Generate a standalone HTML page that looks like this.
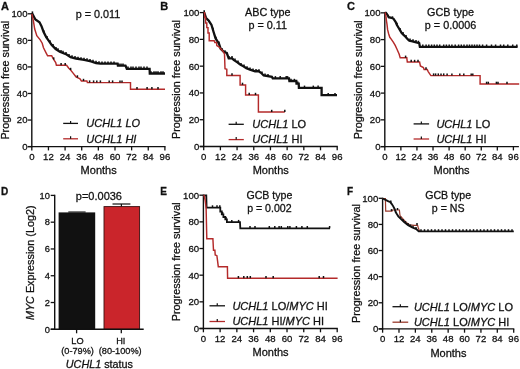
<!DOCTYPE html>
<html><head><meta charset="utf-8"><style>
html,body{margin:0;padding:0;background:#fff;}
svg{display:block;filter:blur(0.25px);}
text{font-family:"Liberation Sans", sans-serif;fill:#111;stroke:#111;stroke-width:0.28px;}
</style></head><body>
<svg width="520" height="369" viewBox="0 0 520 369">
<rect width="520" height="369" fill="#fff"/>
<text x="0.90" y="9.50" font-size="11" font-weight="bold" >A</text>
<line x1="31.80" y1="13.20" x2="31.80" y2="147.20" stroke="#111" stroke-width="1.4"/>
<line x1="27.80" y1="146.60" x2="31.80" y2="146.60" stroke="#111" stroke-width="1.3"/>
<text x="27.50" y="150.00" font-size="9.6" text-anchor="end" >0</text>
<line x1="27.80" y1="120.04" x2="31.80" y2="120.04" stroke="#111" stroke-width="1.3"/>
<text x="27.50" y="123.44" font-size="9.6" text-anchor="end" >20</text>
<line x1="27.80" y1="93.48" x2="31.80" y2="93.48" stroke="#111" stroke-width="1.3"/>
<text x="27.50" y="96.88" font-size="9.6" text-anchor="end" >40</text>
<line x1="27.80" y1="66.92" x2="31.80" y2="66.92" stroke="#111" stroke-width="1.3"/>
<text x="27.50" y="70.32" font-size="9.6" text-anchor="end" >60</text>
<line x1="27.80" y1="40.36" x2="31.80" y2="40.36" stroke="#111" stroke-width="1.3"/>
<text x="27.50" y="43.76" font-size="9.6" text-anchor="end" >80</text>
<line x1="27.80" y1="13.80" x2="31.80" y2="13.80" stroke="#111" stroke-width="1.3"/>
<text x="27.50" y="17.20" font-size="9.6" text-anchor="end" >100</text>
<line x1="27.80" y1="146.60" x2="165.50" y2="146.60" stroke="#111" stroke-width="1.4"/>
<line x1="31.80" y1="146.60" x2="31.80" y2="150.40" stroke="#111" stroke-width="1.3"/>
<text x="31.80" y="159.70" font-size="9.6" text-anchor="middle" >0</text>
<line x1="48.44" y1="146.60" x2="48.44" y2="150.40" stroke="#111" stroke-width="1.3"/>
<text x="48.44" y="159.70" font-size="9.6" text-anchor="middle" >12</text>
<line x1="65.08" y1="146.60" x2="65.08" y2="150.40" stroke="#111" stroke-width="1.3"/>
<text x="65.08" y="159.70" font-size="9.6" text-anchor="middle" >24</text>
<line x1="81.71" y1="146.60" x2="81.71" y2="150.40" stroke="#111" stroke-width="1.3"/>
<text x="81.71" y="159.70" font-size="9.6" text-anchor="middle" >36</text>
<line x1="98.35" y1="146.60" x2="98.35" y2="150.40" stroke="#111" stroke-width="1.3"/>
<text x="98.35" y="159.70" font-size="9.6" text-anchor="middle" >48</text>
<line x1="114.99" y1="146.60" x2="114.99" y2="150.40" stroke="#111" stroke-width="1.3"/>
<text x="114.99" y="159.70" font-size="9.6" text-anchor="middle" >60</text>
<line x1="131.62" y1="146.60" x2="131.62" y2="150.40" stroke="#111" stroke-width="1.3"/>
<text x="131.62" y="159.70" font-size="9.6" text-anchor="middle" >72</text>
<line x1="148.26" y1="146.60" x2="148.26" y2="150.40" stroke="#111" stroke-width="1.3"/>
<text x="148.26" y="159.70" font-size="9.6" text-anchor="middle" >84</text>
<line x1="164.90" y1="146.60" x2="164.90" y2="150.40" stroke="#111" stroke-width="1.3"/>
<text x="164.90" y="159.70" font-size="9.6" text-anchor="middle" >96</text>
<text x="98.65" y="173.80" font-size="11" text-anchor="middle" >Months</text>
<text x="9.00" y="80.20" font-size="10.8" text-anchor="middle" transform="rotate(-90 9.00 80.20)" >Progression free survival</text>
<text x="98.00" y="18.30" font-size="10.8" text-anchor="middle" >p = 0.011</text>
<polyline points="31.80,13.80 32.50,14.20 35.40,19.50 39.50,22.20 41.50,26.20 43.50,31.70 46.20,37.10 49.00,41.10 51.70,44.90 55.70,49.00 59.80,51.80 66.60,54.50 70.60,57.20 76.00,58.50 84.20,59.90 91.00,61.40 96.00,63.00 100.40,63.60 117.60,63.60 117.90,65.60 125.50,65.60 126.80,68.80 149.60,68.80 149.80,73.50 165.00,73.50" fill="none" stroke="#111" stroke-width="2.3" stroke-linejoin="miter"/>
<line x1="32.40" y1="13.80" x2="32.40" y2="11.40" stroke="#111" stroke-width="1.6"/>
<line x1="44.00" y1="32.70" x2="44.00" y2="30.50" stroke="#111" stroke-width="1.5"/>
<line x1="47.00" y1="38.24" x2="47.00" y2="36.04" stroke="#111" stroke-width="1.5"/>
<line x1="50.00" y1="42.51" x2="50.00" y2="40.31" stroke="#111" stroke-width="1.5"/>
<line x1="53.00" y1="46.23" x2="53.00" y2="44.03" stroke="#111" stroke-width="1.5"/>
<line x1="56.00" y1="49.20" x2="56.00" y2="47.00" stroke="#111" stroke-width="1.5"/>
<line x1="58.00" y1="50.57" x2="58.00" y2="48.37" stroke="#111" stroke-width="1.5"/>
<line x1="61.00" y1="52.28" x2="61.00" y2="50.08" stroke="#111" stroke-width="1.5"/>
<line x1="63.00" y1="53.07" x2="63.00" y2="50.87" stroke="#111" stroke-width="1.5"/>
<line x1="66.00" y1="54.26" x2="66.00" y2="52.06" stroke="#111" stroke-width="1.5"/>
<line x1="69.00" y1="56.12" x2="69.00" y2="53.92" stroke="#111" stroke-width="1.5"/>
<line x1="72.00" y1="57.54" x2="72.00" y2="55.34" stroke="#111" stroke-width="1.5"/>
<line x1="75.00" y1="58.26" x2="75.00" y2="56.06" stroke="#111" stroke-width="1.5"/>
<line x1="78.00" y1="58.84" x2="78.00" y2="56.64" stroke="#111" stroke-width="1.5"/>
<line x1="81.00" y1="59.35" x2="81.00" y2="57.15" stroke="#111" stroke-width="1.5"/>
<line x1="84.00" y1="59.87" x2="84.00" y2="57.67" stroke="#111" stroke-width="1.5"/>
<line x1="87.00" y1="60.52" x2="87.00" y2="58.32" stroke="#111" stroke-width="1.5"/>
<line x1="90.00" y1="61.18" x2="90.00" y2="58.98" stroke="#111" stroke-width="1.5"/>
<line x1="93.00" y1="62.04" x2="93.00" y2="59.84" stroke="#111" stroke-width="1.5"/>
<line x1="96.00" y1="63.00" x2="96.00" y2="60.80" stroke="#111" stroke-width="1.5"/>
<line x1="99.00" y1="63.41" x2="99.00" y2="61.21" stroke="#111" stroke-width="1.5"/>
<line x1="102.00" y1="63.60" x2="102.00" y2="61.40" stroke="#111" stroke-width="1.5"/>
<line x1="105.00" y1="63.60" x2="105.00" y2="61.40" stroke="#111" stroke-width="1.5"/>
<line x1="108.00" y1="63.60" x2="108.00" y2="61.40" stroke="#111" stroke-width="1.5"/>
<line x1="111.00" y1="63.60" x2="111.00" y2="61.40" stroke="#111" stroke-width="1.5"/>
<line x1="114.00" y1="63.60" x2="114.00" y2="61.40" stroke="#111" stroke-width="1.5"/>
<line x1="119.00" y1="65.60" x2="119.00" y2="63.40" stroke="#111" stroke-width="1.5"/>
<line x1="121.00" y1="65.60" x2="121.00" y2="63.40" stroke="#111" stroke-width="1.5"/>
<line x1="123.00" y1="65.60" x2="123.00" y2="63.40" stroke="#111" stroke-width="1.5"/>
<line x1="128.00" y1="68.80" x2="128.00" y2="66.60" stroke="#111" stroke-width="1.5"/>
<line x1="131.00" y1="68.80" x2="131.00" y2="66.60" stroke="#111" stroke-width="1.5"/>
<line x1="133.00" y1="68.80" x2="133.00" y2="66.60" stroke="#111" stroke-width="1.5"/>
<line x1="136.00" y1="68.80" x2="136.00" y2="66.60" stroke="#111" stroke-width="1.5"/>
<line x1="139.00" y1="68.80" x2="139.00" y2="66.60" stroke="#111" stroke-width="1.5"/>
<line x1="141.00" y1="68.80" x2="141.00" y2="66.60" stroke="#111" stroke-width="1.5"/>
<line x1="144.00" y1="68.80" x2="144.00" y2="66.60" stroke="#111" stroke-width="1.5"/>
<line x1="147.00" y1="68.80" x2="147.00" y2="66.60" stroke="#111" stroke-width="1.5"/>
<line x1="151.00" y1="73.50" x2="151.00" y2="71.30" stroke="#111" stroke-width="1.5"/>
<line x1="154.00" y1="73.50" x2="154.00" y2="71.30" stroke="#111" stroke-width="1.5"/>
<line x1="156.00" y1="73.50" x2="156.00" y2="71.30" stroke="#111" stroke-width="1.5"/>
<line x1="158.00" y1="73.50" x2="158.00" y2="71.30" stroke="#111" stroke-width="1.5"/>
<line x1="161.00" y1="73.50" x2="161.00" y2="71.30" stroke="#111" stroke-width="1.5"/>
<line x1="163.00" y1="73.50" x2="163.00" y2="71.30" stroke="#111" stroke-width="1.5"/>
<polyline points="31.80,13.80 33.40,20.80 34.70,29.00 36.80,35.70 40.20,39.80 42.20,43.20 43.50,47.70 46.20,53.10 47.60,55.80 51.70,55.80 53.00,58.50 55.70,62.60 56.40,65.30 66.60,65.30 68.60,68.00 70.60,70.00 73.30,73.40 76.00,76.80 80.00,78.80 81.40,81.00 86.90,81.00 87.40,82.60 130.50,82.60 130.50,89.20 165.00,89.20" fill="none" stroke="#b42a2a" stroke-width="1.45" stroke-linejoin="miter"/>
<line x1="53.70" y1="59.56" x2="53.70" y2="57.36" stroke="#111" stroke-width="1.5"/>
<line x1="61.10" y1="65.30" x2="61.10" y2="63.10" stroke="#111" stroke-width="1.5"/>
<line x1="65.20" y1="65.30" x2="65.20" y2="63.10" stroke="#111" stroke-width="1.5"/>
<line x1="70.60" y1="70.00" x2="70.60" y2="67.80" stroke="#111" stroke-width="1.5"/>
<line x1="77.40" y1="77.50" x2="77.40" y2="75.30" stroke="#111" stroke-width="1.5"/>
<line x1="83.50" y1="81.00" x2="83.50" y2="78.80" stroke="#111" stroke-width="1.5"/>
<line x1="89.60" y1="82.60" x2="89.60" y2="80.40" stroke="#111" stroke-width="1.5"/>
<line x1="93.60" y1="82.60" x2="93.60" y2="80.40" stroke="#111" stroke-width="1.5"/>
<line x1="96.80" y1="82.60" x2="96.80" y2="80.40" stroke="#111" stroke-width="1.5"/>
<line x1="100.40" y1="82.60" x2="100.40" y2="80.40" stroke="#111" stroke-width="1.5"/>
<line x1="109.20" y1="82.60" x2="109.20" y2="80.40" stroke="#111" stroke-width="1.5"/>
<line x1="112.60" y1="82.60" x2="112.60" y2="80.40" stroke="#111" stroke-width="1.5"/>
<line x1="120.00" y1="82.60" x2="120.00" y2="80.40" stroke="#111" stroke-width="1.5"/>
<line x1="122.00" y1="82.60" x2="122.00" y2="80.40" stroke="#111" stroke-width="1.5"/>
<line x1="137.00" y1="89.20" x2="137.00" y2="87.00" stroke="#111" stroke-width="1.5"/>
<line x1="147.10" y1="89.20" x2="147.10" y2="87.00" stroke="#111" stroke-width="1.5"/>
<line x1="151.90" y1="89.20" x2="151.90" y2="87.00" stroke="#111" stroke-width="1.5"/>
<line x1="158.00" y1="89.20" x2="158.00" y2="87.00" stroke="#111" stroke-width="1.5"/>
<line x1="63.20" y1="123.40" x2="78.00" y2="123.40" stroke="#111" stroke-width="1.3"/>
<line x1="70.60" y1="123.40" x2="70.60" y2="120.90" stroke="#111" stroke-width="1.2"/>
<text x="86.30" y="127.20" font-size="11"><tspan font-style="italic">UCHL1 LO</tspan></text>
<line x1="63.20" y1="138.80" x2="78.00" y2="138.80" stroke="#b42a2a" stroke-width="1.3"/>
<line x1="70.60" y1="138.80" x2="70.60" y2="136.30" stroke="#111" stroke-width="1.2"/>
<text x="86.30" y="142.60" font-size="11"><tspan font-style="italic">UCHL1 HI</tspan></text>
<text x="160.30" y="9.50" font-size="11" font-weight="bold" >B</text>
<line x1="203.70" y1="12.00" x2="203.70" y2="147.10" stroke="#111" stroke-width="1.4"/>
<line x1="199.70" y1="146.50" x2="203.70" y2="146.50" stroke="#111" stroke-width="1.3"/>
<text x="199.40" y="149.90" font-size="9.6" text-anchor="end" >0</text>
<line x1="199.70" y1="119.72" x2="203.70" y2="119.72" stroke="#111" stroke-width="1.3"/>
<text x="199.40" y="123.12" font-size="9.6" text-anchor="end" >20</text>
<line x1="199.70" y1="92.94" x2="203.70" y2="92.94" stroke="#111" stroke-width="1.3"/>
<text x="199.40" y="96.34" font-size="9.6" text-anchor="end" >40</text>
<line x1="199.70" y1="66.16" x2="203.70" y2="66.16" stroke="#111" stroke-width="1.3"/>
<text x="199.40" y="69.56" font-size="9.6" text-anchor="end" >60</text>
<line x1="199.70" y1="39.38" x2="203.70" y2="39.38" stroke="#111" stroke-width="1.3"/>
<text x="199.40" y="42.78" font-size="9.6" text-anchor="end" >80</text>
<line x1="199.70" y1="12.60" x2="203.70" y2="12.60" stroke="#111" stroke-width="1.3"/>
<text x="199.40" y="16.00" font-size="9.6" text-anchor="end" >100</text>
<line x1="199.70" y1="146.50" x2="337.80" y2="146.50" stroke="#111" stroke-width="1.4"/>
<line x1="203.70" y1="146.50" x2="203.70" y2="150.30" stroke="#111" stroke-width="1.3"/>
<text x="203.70" y="159.70" font-size="9.6" text-anchor="middle" >0</text>
<line x1="220.39" y1="146.50" x2="220.39" y2="150.30" stroke="#111" stroke-width="1.3"/>
<text x="220.39" y="159.70" font-size="9.6" text-anchor="middle" >12</text>
<line x1="237.07" y1="146.50" x2="237.07" y2="150.30" stroke="#111" stroke-width="1.3"/>
<text x="237.07" y="159.70" font-size="9.6" text-anchor="middle" >24</text>
<line x1="253.76" y1="146.50" x2="253.76" y2="150.30" stroke="#111" stroke-width="1.3"/>
<text x="253.76" y="159.70" font-size="9.6" text-anchor="middle" >36</text>
<line x1="270.45" y1="146.50" x2="270.45" y2="150.30" stroke="#111" stroke-width="1.3"/>
<text x="270.45" y="159.70" font-size="9.6" text-anchor="middle" >48</text>
<line x1="287.14" y1="146.50" x2="287.14" y2="150.30" stroke="#111" stroke-width="1.3"/>
<text x="287.14" y="159.70" font-size="9.6" text-anchor="middle" >60</text>
<line x1="303.82" y1="146.50" x2="303.82" y2="150.30" stroke="#111" stroke-width="1.3"/>
<text x="303.82" y="159.70" font-size="9.6" text-anchor="middle" >72</text>
<line x1="320.51" y1="146.50" x2="320.51" y2="150.30" stroke="#111" stroke-width="1.3"/>
<text x="320.51" y="159.70" font-size="9.6" text-anchor="middle" >84</text>
<line x1="337.20" y1="146.50" x2="337.20" y2="150.30" stroke="#111" stroke-width="1.3"/>
<text x="337.20" y="159.70" font-size="9.6" text-anchor="middle" >96</text>
<text x="270.75" y="173.80" font-size="11" text-anchor="middle" >Months</text>
<text x="180.40" y="79.55" font-size="10.8" text-anchor="middle" transform="rotate(-90 180.40 79.55)" >Progression free survival</text>
<text x="267.80" y="16.40" font-size="10.8" text-anchor="middle" >ABC type</text>
<text x="267.80" y="29.30" font-size="10.8" text-anchor="middle" >p = 0.11</text>
<polyline points="203.70,12.60 204.50,13.40 206.10,18.10 208.80,20.80 211.50,24.90 213.50,31.70 215.60,38.40 219.00,43.80 220.70,48.80 224.00,52.10 226.80,53.00 228.70,58.30 232.00,58.30 234.00,60.20 237.70,62.50 240.60,64.90 243.40,66.30 246.30,68.20 250.00,69.60 255.00,71.30 258.30,71.00 261.00,72.80 263.70,75.50 271.90,76.80 272.70,78.30 289.00,78.30 289.40,81.00 296.30,81.00 296.50,83.70 298.70,83.70 298.90,87.80 321.60,87.80 321.60,95.20 337.00,95.20" fill="none" stroke="#111" stroke-width="2.3" stroke-linejoin="miter"/>
<line x1="204.20" y1="12.60" x2="204.20" y2="10.20" stroke="#111" stroke-width="1.6"/>
<line x1="213.00" y1="30.00" x2="213.00" y2="27.80" stroke="#111" stroke-width="1.5"/>
<line x1="216.00" y1="39.04" x2="216.00" y2="36.84" stroke="#111" stroke-width="1.5"/>
<line x1="219.00" y1="43.80" x2="219.00" y2="41.60" stroke="#111" stroke-width="1.5"/>
<line x1="222.00" y1="50.10" x2="222.00" y2="47.90" stroke="#111" stroke-width="1.5"/>
<line x1="225.00" y1="52.42" x2="225.00" y2="50.22" stroke="#111" stroke-width="1.5"/>
<line x1="229.00" y1="58.30" x2="229.00" y2="56.10" stroke="#111" stroke-width="1.5"/>
<line x1="232.00" y1="58.30" x2="232.00" y2="56.10" stroke="#111" stroke-width="1.5"/>
<line x1="235.00" y1="60.82" x2="235.00" y2="58.62" stroke="#111" stroke-width="1.5"/>
<line x1="238.00" y1="62.75" x2="238.00" y2="60.55" stroke="#111" stroke-width="1.5"/>
<line x1="241.00" y1="65.10" x2="241.00" y2="62.90" stroke="#111" stroke-width="1.5"/>
<line x1="244.00" y1="66.69" x2="244.00" y2="64.49" stroke="#111" stroke-width="1.5"/>
<line x1="247.00" y1="68.46" x2="247.00" y2="66.26" stroke="#111" stroke-width="1.5"/>
<line x1="250.00" y1="69.60" x2="250.00" y2="67.40" stroke="#111" stroke-width="1.5"/>
<line x1="253.00" y1="70.62" x2="253.00" y2="68.42" stroke="#111" stroke-width="1.5"/>
<line x1="256.00" y1="71.21" x2="256.00" y2="69.01" stroke="#111" stroke-width="1.5"/>
<line x1="259.00" y1="71.47" x2="259.00" y2="69.27" stroke="#111" stroke-width="1.5"/>
<line x1="262.00" y1="73.80" x2="262.00" y2="71.60" stroke="#111" stroke-width="1.5"/>
<line x1="265.00" y1="75.71" x2="265.00" y2="73.51" stroke="#111" stroke-width="1.5"/>
<line x1="268.00" y1="76.18" x2="268.00" y2="73.98" stroke="#111" stroke-width="1.5"/>
<line x1="275.40" y1="78.30" x2="275.40" y2="76.10" stroke="#111" stroke-width="1.5"/>
<line x1="280.20" y1="78.30" x2="280.20" y2="76.10" stroke="#111" stroke-width="1.5"/>
<line x1="286.20" y1="78.30" x2="286.20" y2="76.10" stroke="#111" stroke-width="1.5"/>
<line x1="287.60" y1="78.30" x2="287.60" y2="76.10" stroke="#111" stroke-width="1.5"/>
<line x1="291.00" y1="81.00" x2="291.00" y2="78.80" stroke="#111" stroke-width="1.5"/>
<line x1="294.40" y1="81.00" x2="294.40" y2="78.80" stroke="#111" stroke-width="1.5"/>
<line x1="297.80" y1="83.70" x2="297.80" y2="81.50" stroke="#111" stroke-width="1.5"/>
<line x1="304.50" y1="87.80" x2="304.50" y2="85.60" stroke="#111" stroke-width="1.5"/>
<line x1="313.30" y1="87.80" x2="313.30" y2="85.60" stroke="#111" stroke-width="1.5"/>
<line x1="318.10" y1="87.80" x2="318.10" y2="85.60" stroke="#111" stroke-width="1.5"/>
<line x1="328.20" y1="95.20" x2="328.20" y2="93.00" stroke="#111" stroke-width="1.5"/>
<line x1="335.00" y1="95.20" x2="335.00" y2="93.00" stroke="#111" stroke-width="1.5"/>
<polyline points="203.70,12.60 204.60,12.60 204.80,17.50 205.60,17.50 205.60,22.90 206.80,22.90 206.80,27.60 208.00,27.60 208.00,33.00 209.20,33.00 209.20,40.70 214.20,40.70 214.80,42.50 216.50,42.50 216.80,45.60 218.50,46.50 220.50,48.50 222.60,50.70 224.50,54.00 225.00,68.70 226.80,69.20 226.80,75.40 240.10,75.40 240.10,84.90 245.60,84.90 245.60,95.00 258.40,95.00 258.40,112.00 284.80,112.00" fill="none" stroke="#b42a2a" stroke-width="1.45" stroke-linejoin="miter"/>
<line x1="232.00" y1="75.40" x2="232.00" y2="73.20" stroke="#111" stroke-width="1.5"/>
<line x1="242.50" y1="84.90" x2="242.50" y2="82.70" stroke="#111" stroke-width="1.5"/>
<line x1="249.20" y1="95.00" x2="249.20" y2="92.80" stroke="#111" stroke-width="1.5"/>
<line x1="255.50" y1="95.00" x2="255.50" y2="92.80" stroke="#111" stroke-width="1.5"/>
<line x1="271.70" y1="112.00" x2="271.70" y2="109.80" stroke="#111" stroke-width="1.5"/>
<line x1="284.80" y1="112.00" x2="284.80" y2="109.80" stroke="#111" stroke-width="1.5"/>
<line x1="228.60" y1="124.30" x2="243.80" y2="124.30" stroke="#111" stroke-width="1.3"/>
<line x1="236.20" y1="124.30" x2="236.20" y2="121.80" stroke="#111" stroke-width="1.2"/>
<text x="252.30" y="128.10" font-size="11"><tspan font-style="italic">UCHL1</tspan><tspan> LO</tspan></text>
<line x1="228.60" y1="139.60" x2="243.80" y2="139.60" stroke="#b42a2a" stroke-width="1.3"/>
<line x1="236.20" y1="139.60" x2="236.20" y2="137.10" stroke="#111" stroke-width="1.2"/>
<text x="252.30" y="143.40" font-size="11"><tspan font-style="italic">UCHL1</tspan><tspan> HI</tspan></text>
<text x="346.90" y="9.50" font-size="11" font-weight="bold" >C</text>
<line x1="384.80" y1="12.25" x2="384.80" y2="147.20" stroke="#111" stroke-width="1.4"/>
<line x1="380.80" y1="146.60" x2="384.80" y2="146.60" stroke="#111" stroke-width="1.3"/>
<text x="380.50" y="150.00" font-size="9.6" text-anchor="end" >0</text>
<line x1="380.80" y1="119.85" x2="384.80" y2="119.85" stroke="#111" stroke-width="1.3"/>
<text x="380.50" y="123.25" font-size="9.6" text-anchor="end" >20</text>
<line x1="380.80" y1="93.10" x2="384.80" y2="93.10" stroke="#111" stroke-width="1.3"/>
<text x="380.50" y="96.50" font-size="9.6" text-anchor="end" >40</text>
<line x1="380.80" y1="66.35" x2="384.80" y2="66.35" stroke="#111" stroke-width="1.3"/>
<text x="380.50" y="69.75" font-size="9.6" text-anchor="end" >60</text>
<line x1="380.80" y1="39.60" x2="384.80" y2="39.60" stroke="#111" stroke-width="1.3"/>
<text x="380.50" y="43.00" font-size="9.6" text-anchor="end" >80</text>
<line x1="380.80" y1="12.85" x2="384.80" y2="12.85" stroke="#111" stroke-width="1.3"/>
<text x="380.50" y="16.25" font-size="9.6" text-anchor="end" >100</text>
<line x1="380.80" y1="146.60" x2="518.90" y2="146.60" stroke="#111" stroke-width="1.4"/>
<line x1="384.80" y1="146.60" x2="384.80" y2="150.40" stroke="#111" stroke-width="1.3"/>
<text x="384.80" y="159.70" font-size="9.6" text-anchor="middle" >0</text>
<line x1="400.88" y1="146.60" x2="400.88" y2="150.40" stroke="#111" stroke-width="1.3"/>
<text x="400.88" y="159.70" font-size="9.6" text-anchor="middle" >12</text>
<line x1="416.95" y1="146.60" x2="416.95" y2="150.40" stroke="#111" stroke-width="1.3"/>
<text x="416.95" y="159.70" font-size="9.6" text-anchor="middle" >24</text>
<line x1="433.02" y1="146.60" x2="433.02" y2="150.40" stroke="#111" stroke-width="1.3"/>
<text x="433.02" y="159.70" font-size="9.6" text-anchor="middle" >36</text>
<line x1="449.10" y1="146.60" x2="449.10" y2="150.40" stroke="#111" stroke-width="1.3"/>
<text x="449.10" y="159.70" font-size="9.6" text-anchor="middle" >48</text>
<line x1="465.17" y1="146.60" x2="465.17" y2="150.40" stroke="#111" stroke-width="1.3"/>
<text x="465.17" y="159.70" font-size="9.6" text-anchor="middle" >60</text>
<line x1="481.25" y1="146.60" x2="481.25" y2="150.40" stroke="#111" stroke-width="1.3"/>
<text x="481.25" y="159.70" font-size="9.6" text-anchor="middle" >72</text>
<line x1="497.32" y1="146.60" x2="497.32" y2="150.40" stroke="#111" stroke-width="1.3"/>
<text x="497.32" y="159.70" font-size="9.6" text-anchor="middle" >84</text>
<line x1="513.40" y1="146.60" x2="513.40" y2="150.40" stroke="#111" stroke-width="1.3"/>
<text x="513.40" y="159.70" font-size="9.6" text-anchor="middle" >96</text>
<text x="451.60" y="173.80" font-size="11" text-anchor="middle" >Months</text>
<text x="362.30" y="79.72" font-size="10.8" text-anchor="middle" transform="rotate(-90 362.30 79.72)" >Progression free survival</text>
<text x="450.50" y="16.40" font-size="10.8" text-anchor="middle" >GCB type</text>
<text x="450.50" y="29.30" font-size="10.8" text-anchor="middle" >p = 0.0006</text>
<polyline points="384.80,12.85 386.00,12.85 387.60,15.00 388.70,17.20 391.40,17.80 393.60,18.80 394.60,20.50 395.70,22.10 396.80,24.80 398.40,27.50 400.00,30.20 401.70,33.00 403.30,34.60 405.50,36.70 407.90,39.50 409.30,40.60 412.50,41.30 415.30,42.20 419.20,43.20 419.90,46.80 517.60,46.80" fill="none" stroke="#111" stroke-width="2.3" stroke-linejoin="miter"/>
<line x1="392.50" y1="18.30" x2="392.50" y2="16.30" stroke="#111" stroke-width="1.5"/>
<line x1="397.00" y1="25.14" x2="397.00" y2="22.84" stroke="#111" stroke-width="1.5"/>
<line x1="400.00" y1="30.20" x2="400.00" y2="27.90" stroke="#111" stroke-width="1.5"/>
<line x1="403.00" y1="34.30" x2="403.00" y2="32.00" stroke="#111" stroke-width="1.5"/>
<line x1="406.00" y1="37.28" x2="406.00" y2="34.98" stroke="#111" stroke-width="1.5"/>
<line x1="410.00" y1="40.75" x2="410.00" y2="38.45" stroke="#111" stroke-width="1.5"/>
<line x1="413.00" y1="41.46" x2="413.00" y2="39.16" stroke="#111" stroke-width="1.5"/>
<line x1="416.00" y1="42.38" x2="416.00" y2="40.08" stroke="#111" stroke-width="1.5"/>
<line x1="418.50" y1="43.02" x2="418.50" y2="40.72" stroke="#111" stroke-width="1.5"/>
<line x1="422.80" y1="46.80" x2="422.80" y2="44.50" stroke="#111" stroke-width="1.5"/>
<line x1="426.10" y1="46.80" x2="426.10" y2="44.50" stroke="#111" stroke-width="1.5"/>
<line x1="428.80" y1="46.80" x2="428.80" y2="44.50" stroke="#111" stroke-width="1.5"/>
<line x1="431.60" y1="46.80" x2="431.60" y2="44.50" stroke="#111" stroke-width="1.5"/>
<line x1="434.30" y1="46.80" x2="434.30" y2="44.50" stroke="#111" stroke-width="1.5"/>
<line x1="437.00" y1="46.80" x2="437.00" y2="44.50" stroke="#111" stroke-width="1.5"/>
<line x1="439.70" y1="46.80" x2="439.70" y2="44.50" stroke="#111" stroke-width="1.5"/>
<line x1="443.70" y1="46.80" x2="443.70" y2="44.50" stroke="#111" stroke-width="1.5"/>
<line x1="446.40" y1="46.80" x2="446.40" y2="44.50" stroke="#111" stroke-width="1.5"/>
<line x1="449.20" y1="46.80" x2="449.20" y2="44.50" stroke="#111" stroke-width="1.5"/>
<line x1="451.90" y1="46.80" x2="451.90" y2="44.50" stroke="#111" stroke-width="1.5"/>
<line x1="455.20" y1="46.80" x2="455.20" y2="44.50" stroke="#111" stroke-width="1.5"/>
<line x1="458.60" y1="46.80" x2="458.60" y2="44.50" stroke="#111" stroke-width="1.5"/>
<line x1="461.30" y1="46.80" x2="461.30" y2="44.50" stroke="#111" stroke-width="1.5"/>
<line x1="464.00" y1="46.80" x2="464.00" y2="44.50" stroke="#111" stroke-width="1.5"/>
<line x1="467.00" y1="46.80" x2="467.00" y2="44.50" stroke="#111" stroke-width="1.5"/>
<line x1="469.50" y1="46.80" x2="469.50" y2="44.50" stroke="#111" stroke-width="1.5"/>
<line x1="472.00" y1="46.80" x2="472.00" y2="44.50" stroke="#111" stroke-width="1.5"/>
<line x1="474.50" y1="46.80" x2="474.50" y2="44.50" stroke="#111" stroke-width="1.5"/>
<line x1="477.00" y1="46.80" x2="477.00" y2="44.50" stroke="#111" stroke-width="1.5"/>
<line x1="479.50" y1="46.80" x2="479.50" y2="44.50" stroke="#111" stroke-width="1.5"/>
<line x1="482.60" y1="46.80" x2="482.60" y2="44.50" stroke="#111" stroke-width="1.5"/>
<line x1="486.60" y1="46.80" x2="486.60" y2="44.50" stroke="#111" stroke-width="1.5"/>
<line x1="491.50" y1="46.80" x2="491.50" y2="44.50" stroke="#111" stroke-width="1.5"/>
<line x1="495.60" y1="46.80" x2="495.60" y2="44.50" stroke="#111" stroke-width="1.5"/>
<line x1="500.50" y1="46.80" x2="500.50" y2="44.50" stroke="#111" stroke-width="1.5"/>
<line x1="503.70" y1="46.80" x2="503.70" y2="44.50" stroke="#111" stroke-width="1.5"/>
<line x1="507.80" y1="46.80" x2="507.80" y2="44.50" stroke="#111" stroke-width="1.5"/>
<line x1="512.70" y1="46.80" x2="512.70" y2="44.50" stroke="#111" stroke-width="1.5"/>
<line x1="516.80" y1="46.80" x2="516.80" y2="44.50" stroke="#111" stroke-width="1.5"/>
<polyline points="384.80,12.85 385.20,12.85 386.00,16.70 386.50,21.00 387.00,24.30 387.60,29.70 388.70,34.00 389.80,37.30 391.40,39.40 393.60,42.70 395.20,45.40 397.00,49.20 399.10,54.00 400.20,57.80 406.80,57.80 407.30,62.00 419.60,62.00 420.40,66.00 423.40,67.50 424.10,69.40 427.20,69.40 428.20,71.60 430.90,75.60 480.10,75.60 480.10,83.90 519.20,83.90" fill="none" stroke="#b42a2a" stroke-width="1.45" stroke-linejoin="miter"/>
<line x1="405.60" y1="57.80" x2="405.60" y2="55.60" stroke="#111" stroke-width="1.5"/>
<line x1="411.20" y1="62.00" x2="411.20" y2="59.80" stroke="#111" stroke-width="1.5"/>
<line x1="414.60" y1="62.00" x2="414.60" y2="59.80" stroke="#111" stroke-width="1.5"/>
<line x1="418.00" y1="62.00" x2="418.00" y2="59.80" stroke="#111" stroke-width="1.5"/>
<line x1="426.00" y1="69.40" x2="426.00" y2="67.20" stroke="#111" stroke-width="1.5"/>
<line x1="433.60" y1="75.60" x2="433.60" y2="73.40" stroke="#111" stroke-width="1.5"/>
<line x1="435.60" y1="75.60" x2="435.60" y2="73.40" stroke="#111" stroke-width="1.5"/>
<line x1="438.30" y1="75.60" x2="438.30" y2="73.40" stroke="#111" stroke-width="1.5"/>
<line x1="441.00" y1="75.60" x2="441.00" y2="73.40" stroke="#111" stroke-width="1.5"/>
<line x1="443.70" y1="75.60" x2="443.70" y2="73.40" stroke="#111" stroke-width="1.5"/>
<line x1="447.10" y1="75.60" x2="447.10" y2="73.40" stroke="#111" stroke-width="1.5"/>
<line x1="451.90" y1="75.60" x2="451.90" y2="73.40" stroke="#111" stroke-width="1.5"/>
<line x1="459.80" y1="75.60" x2="459.80" y2="73.40" stroke="#111" stroke-width="1.5"/>
<line x1="463.80" y1="75.60" x2="463.80" y2="73.40" stroke="#111" stroke-width="1.5"/>
<line x1="471.20" y1="75.60" x2="471.20" y2="73.40" stroke="#111" stroke-width="1.5"/>
<line x1="472.80" y1="75.60" x2="472.80" y2="73.40" stroke="#111" stroke-width="1.5"/>
<line x1="486.60" y1="83.90" x2="486.60" y2="81.70" stroke="#111" stroke-width="1.5"/>
<line x1="488.30" y1="83.90" x2="488.30" y2="81.70" stroke="#111" stroke-width="1.5"/>
<line x1="496.40" y1="83.90" x2="496.40" y2="81.70" stroke="#111" stroke-width="1.5"/>
<line x1="498.00" y1="83.90" x2="498.00" y2="81.70" stroke="#111" stroke-width="1.5"/>
<line x1="507.00" y1="83.90" x2="507.00" y2="81.70" stroke="#111" stroke-width="1.5"/>
<line x1="413.60" y1="123.90" x2="429.10" y2="123.90" stroke="#111" stroke-width="1.3"/>
<line x1="421.35" y1="123.90" x2="421.35" y2="121.40" stroke="#111" stroke-width="1.2"/>
<text x="436.40" y="127.70" font-size="11"><tspan font-style="italic">UCHL1</tspan><tspan> LO</tspan></text>
<line x1="413.60" y1="139.00" x2="429.10" y2="139.00" stroke="#b42a2a" stroke-width="1.3"/>
<line x1="421.35" y1="139.00" x2="421.35" y2="136.50" stroke="#111" stroke-width="1.2"/>
<text x="436.40" y="142.80" font-size="11"><tspan font-style="italic">UCHL1</tspan><tspan> HI</tspan></text>
<text x="1.00" y="194.80" font-size="10.0" font-weight="bold" >D</text>
<rect x="58.6" y="212.4" width="36.6" height="116.90" fill="#111"/>
<rect x="104.0" y="206.6" width="35.6" height="122.70" fill="#ca252b" stroke="#3a1010" stroke-width="0.9"/>
<line x1="68.30" y1="212.00" x2="85.60" y2="212.00" stroke="#111" stroke-width="1.1"/>
<line x1="112.50" y1="204.00" x2="130.40" y2="204.00" stroke="#111" stroke-width="1.2"/>
<line x1="121.40" y1="204.00" x2="121.40" y2="206.50" stroke="#111" stroke-width="1.2"/>
<line x1="54.70" y1="194.80" x2="54.70" y2="329.90" stroke="#111" stroke-width="1.4"/>
<line x1="50.70" y1="329.30" x2="54.70" y2="329.30" stroke="#111" stroke-width="1.3"/>
<text x="49.90" y="332.60" font-size="9.3" text-anchor="end" >0</text>
<line x1="50.70" y1="302.52" x2="54.70" y2="302.52" stroke="#111" stroke-width="1.3"/>
<text x="49.90" y="305.82" font-size="9.3" text-anchor="end" >2</text>
<line x1="50.70" y1="275.74" x2="54.70" y2="275.74" stroke="#111" stroke-width="1.3"/>
<text x="49.90" y="279.04" font-size="9.3" text-anchor="end" >4</text>
<line x1="50.70" y1="248.96" x2="54.70" y2="248.96" stroke="#111" stroke-width="1.3"/>
<text x="49.90" y="252.26" font-size="9.3" text-anchor="end" >6</text>
<line x1="50.70" y1="222.18" x2="54.70" y2="222.18" stroke="#111" stroke-width="1.3"/>
<text x="49.90" y="225.48" font-size="9.3" text-anchor="end" >8</text>
<line x1="50.70" y1="195.40" x2="54.70" y2="195.40" stroke="#111" stroke-width="1.3"/>
<text x="49.90" y="198.70" font-size="9.3" text-anchor="end" >10</text>
<line x1="50.70" y1="329.30" x2="143.70" y2="329.30" stroke="#111" stroke-width="1.4"/>
<line x1="76.60" y1="329.30" x2="76.60" y2="333.30" stroke="#111" stroke-width="1.3"/>
<line x1="121.30" y1="329.30" x2="121.30" y2="333.30" stroke="#111" stroke-width="1.3"/>
<text x="77.50" y="343.90" font-size="9.2" text-anchor="middle" >LO</text>
<text x="77.60" y="354.40" font-size="9.2" text-anchor="middle" >(0-79%)</text>
<text x="120.80" y="343.90" font-size="9.2" text-anchor="middle" >HI</text>
<text x="120.20" y="354.40" font-size="9.2" text-anchor="middle" >(80-100%)</text>
<text x="99.4" y="367.8" font-size="10.8" text-anchor="middle"><tspan font-style="italic">UCHL1</tspan> status</text>
<text x="98.90" y="199.60" font-size="11" text-anchor="middle" >p=0.0036</text>
<text x="34.5" y="262.8" font-size="10.8" text-anchor="middle" transform="rotate(-90 34.5 262.8)"><tspan font-style="italic">MYC</tspan> Expression (Log2)</text>
<text x="160.20" y="195.40" font-size="10.0" font-weight="bold" >E</text>
<line x1="203.40" y1="194.60" x2="203.40" y2="329.10" stroke="#111" stroke-width="1.4"/>
<line x1="199.40" y1="328.50" x2="203.40" y2="328.50" stroke="#111" stroke-width="1.3"/>
<text x="199.10" y="331.90" font-size="9.6" text-anchor="end" >0</text>
<line x1="199.40" y1="301.84" x2="203.40" y2="301.84" stroke="#111" stroke-width="1.3"/>
<text x="199.10" y="305.24" font-size="9.6" text-anchor="end" >20</text>
<line x1="199.40" y1="275.18" x2="203.40" y2="275.18" stroke="#111" stroke-width="1.3"/>
<text x="199.10" y="278.58" font-size="9.6" text-anchor="end" >40</text>
<line x1="199.40" y1="248.52" x2="203.40" y2="248.52" stroke="#111" stroke-width="1.3"/>
<text x="199.10" y="251.92" font-size="9.6" text-anchor="end" >60</text>
<line x1="199.40" y1="221.86" x2="203.40" y2="221.86" stroke="#111" stroke-width="1.3"/>
<text x="199.10" y="225.26" font-size="9.6" text-anchor="end" >80</text>
<line x1="199.40" y1="195.20" x2="203.40" y2="195.20" stroke="#111" stroke-width="1.3"/>
<text x="199.10" y="198.60" font-size="9.6" text-anchor="end" >100</text>
<line x1="199.40" y1="328.50" x2="337.80" y2="328.50" stroke="#111" stroke-width="1.4"/>
<line x1="203.40" y1="328.50" x2="203.40" y2="332.30" stroke="#111" stroke-width="1.3"/>
<text x="203.40" y="341.70" font-size="9.6" text-anchor="middle" >0</text>
<line x1="220.12" y1="328.50" x2="220.12" y2="332.30" stroke="#111" stroke-width="1.3"/>
<text x="220.12" y="341.70" font-size="9.6" text-anchor="middle" >12</text>
<line x1="236.85" y1="328.50" x2="236.85" y2="332.30" stroke="#111" stroke-width="1.3"/>
<text x="236.85" y="341.70" font-size="9.6" text-anchor="middle" >24</text>
<line x1="253.57" y1="328.50" x2="253.57" y2="332.30" stroke="#111" stroke-width="1.3"/>
<text x="253.57" y="341.70" font-size="9.6" text-anchor="middle" >36</text>
<line x1="270.30" y1="328.50" x2="270.30" y2="332.30" stroke="#111" stroke-width="1.3"/>
<text x="270.30" y="341.70" font-size="9.6" text-anchor="middle" >48</text>
<line x1="287.02" y1="328.50" x2="287.02" y2="332.30" stroke="#111" stroke-width="1.3"/>
<text x="287.02" y="341.70" font-size="9.6" text-anchor="middle" >60</text>
<line x1="303.75" y1="328.50" x2="303.75" y2="332.30" stroke="#111" stroke-width="1.3"/>
<text x="303.75" y="341.70" font-size="9.6" text-anchor="middle" >72</text>
<line x1="320.48" y1="328.50" x2="320.48" y2="332.30" stroke="#111" stroke-width="1.3"/>
<text x="320.48" y="341.70" font-size="9.6" text-anchor="middle" >84</text>
<line x1="337.20" y1="328.50" x2="337.20" y2="332.30" stroke="#111" stroke-width="1.3"/>
<text x="337.20" y="341.70" font-size="9.6" text-anchor="middle" >96</text>
<text x="270.60" y="356.20" font-size="11" text-anchor="middle" >Months</text>
<text x="180.40" y="261.85" font-size="10.8" text-anchor="middle" transform="rotate(-90 180.40 261.85)" >Progression free survival</text>
<text x="269.40" y="198.80" font-size="10.6" text-anchor="middle" >GCB type</text>
<text x="269.40" y="211.50" font-size="10.6" text-anchor="middle" >p = 0.002</text>
<polyline points="203.40,195.40 206.30,195.40 206.60,207.60 220.30,207.60 220.30,211.50 221.80,211.50 221.80,214.30 223.40,214.30 223.40,217.00 225.30,217.00 225.30,219.40 226.90,219.40 226.90,222.20 240.00,222.20 240.30,228.30 330.00,228.30" fill="none" stroke="#111" stroke-width="1.8" stroke-linejoin="miter"/>
<line x1="212.50" y1="207.60" x2="212.50" y2="205.30" stroke="#111" stroke-width="1.5"/>
<line x1="217.00" y1="207.60" x2="217.00" y2="205.30" stroke="#111" stroke-width="1.5"/>
<line x1="219.80" y1="207.60" x2="219.80" y2="205.30" stroke="#111" stroke-width="1.5"/>
<line x1="222.60" y1="214.30" x2="222.60" y2="212.00" stroke="#111" stroke-width="1.5"/>
<line x1="226.00" y1="219.40" x2="226.00" y2="217.10" stroke="#111" stroke-width="1.5"/>
<line x1="231.80" y1="222.20" x2="231.80" y2="219.90" stroke="#111" stroke-width="1.5"/>
<line x1="238.60" y1="222.20" x2="238.60" y2="219.90" stroke="#111" stroke-width="1.5"/>
<line x1="250.00" y1="228.30" x2="250.00" y2="226.00" stroke="#111" stroke-width="1.5"/>
<line x1="255.00" y1="228.30" x2="255.00" y2="226.00" stroke="#111" stroke-width="1.5"/>
<line x1="269.30" y1="228.30" x2="269.30" y2="226.00" stroke="#111" stroke-width="1.5"/>
<line x1="274.80" y1="228.30" x2="274.80" y2="226.00" stroke="#111" stroke-width="1.5"/>
<line x1="279.10" y1="228.30" x2="279.10" y2="226.00" stroke="#111" stroke-width="1.5"/>
<line x1="281.30" y1="228.30" x2="281.30" y2="226.00" stroke="#111" stroke-width="1.5"/>
<line x1="287.80" y1="228.30" x2="287.80" y2="226.00" stroke="#111" stroke-width="1.5"/>
<line x1="289.90" y1="228.30" x2="289.90" y2="226.00" stroke="#111" stroke-width="1.5"/>
<line x1="296.40" y1="228.30" x2="296.40" y2="226.00" stroke="#111" stroke-width="1.5"/>
<line x1="301.90" y1="228.30" x2="301.90" y2="226.00" stroke="#111" stroke-width="1.5"/>
<line x1="307.30" y1="228.30" x2="307.30" y2="226.00" stroke="#111" stroke-width="1.5"/>
<line x1="329.60" y1="228.30" x2="329.60" y2="226.00" stroke="#111" stroke-width="1.5"/>
<polyline points="203.40,195.40 204.10,195.40 205.20,200.50 206.10,207.60 206.80,238.80 212.90,238.80 213.50,250.30 214.90,250.30 215.20,255.00 216.90,255.70 217.60,261.10 218.30,266.70 227.40,266.70 227.60,278.20 337.60,278.20" fill="none" stroke="#b42a2a" stroke-width="1.45" stroke-linejoin="miter"/>
<line x1="238.40" y1="278.20" x2="238.40" y2="276.00" stroke="#111" stroke-width="1.5"/>
<line x1="243.80" y1="278.20" x2="243.80" y2="276.00" stroke="#111" stroke-width="1.5"/>
<line x1="247.30" y1="278.20" x2="247.30" y2="276.00" stroke="#111" stroke-width="1.5"/>
<line x1="250.30" y1="278.20" x2="250.30" y2="276.00" stroke="#111" stroke-width="1.5"/>
<line x1="266.00" y1="278.20" x2="266.00" y2="276.00" stroke="#111" stroke-width="1.5"/>
<line x1="273.20" y1="278.20" x2="273.20" y2="276.00" stroke="#111" stroke-width="1.5"/>
<line x1="319.20" y1="278.20" x2="319.20" y2="276.00" stroke="#111" stroke-width="1.5"/>
<line x1="323.50" y1="278.20" x2="323.50" y2="276.00" stroke="#111" stroke-width="1.5"/>
<line x1="209.50" y1="305.80" x2="225.00" y2="305.80" stroke="#111" stroke-width="1.3"/>
<line x1="217.25" y1="305.80" x2="217.25" y2="303.30" stroke="#111" stroke-width="1.2"/>
<text x="232.40" y="309.60" font-size="11"><tspan font-style="italic">UCHL1</tspan><tspan> LO/</tspan><tspan font-style="italic">MYC</tspan><tspan> HI</tspan></text>
<line x1="209.50" y1="321.50" x2="225.00" y2="321.50" stroke="#b42a2a" stroke-width="1.3"/>
<line x1="217.25" y1="321.50" x2="217.25" y2="319.00" stroke="#111" stroke-width="1.2"/>
<text x="232.40" y="325.30" font-size="11"><tspan font-style="italic">UCHL1</tspan><tspan> HI/</tspan><tspan font-style="italic">MYC</tspan><tspan> HI</tspan></text>
<text x="346.90" y="195.00" font-size="10.0" font-weight="bold" >F</text>
<line x1="382.60" y1="197.70" x2="382.60" y2="329.50" stroke="#111" stroke-width="1.4"/>
<line x1="378.60" y1="328.90" x2="382.60" y2="328.90" stroke="#111" stroke-width="1.3"/>
<text x="378.30" y="332.30" font-size="9.6" text-anchor="end" >0</text>
<line x1="378.60" y1="302.78" x2="382.60" y2="302.78" stroke="#111" stroke-width="1.3"/>
<text x="378.30" y="306.18" font-size="9.6" text-anchor="end" >20</text>
<line x1="378.60" y1="276.66" x2="382.60" y2="276.66" stroke="#111" stroke-width="1.3"/>
<text x="378.30" y="280.06" font-size="9.6" text-anchor="end" >40</text>
<line x1="378.60" y1="250.54" x2="382.60" y2="250.54" stroke="#111" stroke-width="1.3"/>
<text x="378.30" y="253.94" font-size="9.6" text-anchor="end" >60</text>
<line x1="378.60" y1="224.42" x2="382.60" y2="224.42" stroke="#111" stroke-width="1.3"/>
<text x="378.30" y="227.82" font-size="9.6" text-anchor="end" >80</text>
<line x1="378.60" y1="198.30" x2="382.60" y2="198.30" stroke="#111" stroke-width="1.3"/>
<text x="378.30" y="201.70" font-size="9.6" text-anchor="end" >100</text>
<line x1="378.60" y1="328.90" x2="514.30" y2="328.90" stroke="#111" stroke-width="1.4"/>
<line x1="382.60" y1="328.90" x2="382.60" y2="332.70" stroke="#111" stroke-width="1.3"/>
<text x="382.60" y="342.40" font-size="9.6" text-anchor="middle" >0</text>
<line x1="398.99" y1="328.90" x2="398.99" y2="332.70" stroke="#111" stroke-width="1.3"/>
<text x="398.99" y="342.40" font-size="9.6" text-anchor="middle" >12</text>
<line x1="415.38" y1="328.90" x2="415.38" y2="332.70" stroke="#111" stroke-width="1.3"/>
<text x="415.38" y="342.40" font-size="9.6" text-anchor="middle" >24</text>
<line x1="431.76" y1="328.90" x2="431.76" y2="332.70" stroke="#111" stroke-width="1.3"/>
<text x="431.76" y="342.40" font-size="9.6" text-anchor="middle" >36</text>
<line x1="448.15" y1="328.90" x2="448.15" y2="332.70" stroke="#111" stroke-width="1.3"/>
<text x="448.15" y="342.40" font-size="9.6" text-anchor="middle" >48</text>
<line x1="464.54" y1="328.90" x2="464.54" y2="332.70" stroke="#111" stroke-width="1.3"/>
<text x="464.54" y="342.40" font-size="9.6" text-anchor="middle" >60</text>
<line x1="480.93" y1="328.90" x2="480.93" y2="332.70" stroke="#111" stroke-width="1.3"/>
<text x="480.93" y="342.40" font-size="9.6" text-anchor="middle" >72</text>
<line x1="497.31" y1="328.90" x2="497.31" y2="332.70" stroke="#111" stroke-width="1.3"/>
<text x="497.31" y="342.40" font-size="9.6" text-anchor="middle" >84</text>
<line x1="513.70" y1="328.90" x2="513.70" y2="332.70" stroke="#111" stroke-width="1.3"/>
<text x="513.70" y="342.40" font-size="9.6" text-anchor="middle" >96</text>
<text x="448.45" y="357.20" font-size="11" text-anchor="middle" >Months</text>
<text x="360.40" y="263.60" font-size="10.8" text-anchor="middle" transform="rotate(-90 360.40 263.60)" >Progression free survival</text>
<text x="448.20" y="198.80" font-size="10.6" text-anchor="middle" >GCB type</text>
<text x="448.20" y="211.50" font-size="10.6" text-anchor="middle" >p = NS</text>
<polyline points="382.60,198.50 385.40,198.50 385.70,211.10 392.00,211.10 392.50,210.00 399.40,210.00 400.00,215.60 402.50,218.50 406.20,222.50 409.60,224.80 414.20,225.30 417.60,225.30 418.20,227.50 419.30,230.40 420.50,231.60" fill="none" stroke="#9a3a2c" stroke-width="1.2" stroke-linejoin="miter"/>
<polyline points="382.60,198.50 386.10,200.10 388.50,201.30 390.10,201.90 391.80,204.10 393.40,206.60 394.60,209.00 395.80,212.30 397.00,214.30 398.30,216.30 400.30,218.40 404.10,222.00 408.10,225.20 412.20,227.30 416.30,229.00 418.70,231.40 513.80,231.40" fill="none" stroke="#111" stroke-width="1.9" stroke-linejoin="miter"/>
<line x1="390.80" y1="202.81" x2="390.80" y2="200.41" stroke="#111" stroke-width="1.5"/>
<line x1="391.50" y1="211.10" x2="391.50" y2="209.10" stroke="#111" stroke-width="1.5"/>
<line x1="397.50" y1="210.00" x2="397.50" y2="208.00" stroke="#111" stroke-width="1.5"/>
<line x1="400.50" y1="218.59" x2="400.50" y2="216.59" stroke="#111" stroke-width="1.5"/>
<line x1="403.00" y1="220.96" x2="403.00" y2="218.96" stroke="#111" stroke-width="1.5"/>
<line x1="405.50" y1="223.12" x2="405.50" y2="221.12" stroke="#111" stroke-width="1.5"/>
<line x1="408.00" y1="225.12" x2="408.00" y2="223.12" stroke="#111" stroke-width="1.5"/>
<line x1="410.50" y1="226.43" x2="410.50" y2="224.43" stroke="#111" stroke-width="1.5"/>
<line x1="413.00" y1="227.63" x2="413.00" y2="225.63" stroke="#111" stroke-width="1.5"/>
<line x1="416.00" y1="228.88" x2="416.00" y2="226.88" stroke="#111" stroke-width="1.5"/>
<line x1="417.00" y1="225.30" x2="417.00" y2="223.10" stroke="#111" stroke-width="1.5"/>
<line x1="421.00" y1="231.40" x2="421.00" y2="229.20" stroke="#111" stroke-width="1.5"/>
<line x1="424.50" y1="231.40" x2="424.50" y2="229.20" stroke="#111" stroke-width="1.5"/>
<line x1="428.00" y1="231.40" x2="428.00" y2="229.20" stroke="#111" stroke-width="1.5"/>
<line x1="431.50" y1="231.40" x2="431.50" y2="229.20" stroke="#111" stroke-width="1.5"/>
<line x1="435.00" y1="231.40" x2="435.00" y2="229.20" stroke="#111" stroke-width="1.5"/>
<line x1="438.50" y1="231.40" x2="438.50" y2="229.20" stroke="#111" stroke-width="1.5"/>
<line x1="442.00" y1="231.40" x2="442.00" y2="229.20" stroke="#111" stroke-width="1.5"/>
<line x1="445.50" y1="231.40" x2="445.50" y2="229.20" stroke="#111" stroke-width="1.5"/>
<line x1="449.00" y1="231.40" x2="449.00" y2="229.20" stroke="#111" stroke-width="1.5"/>
<line x1="452.50" y1="231.40" x2="452.50" y2="229.20" stroke="#111" stroke-width="1.5"/>
<line x1="456.00" y1="231.40" x2="456.00" y2="229.20" stroke="#111" stroke-width="1.5"/>
<line x1="459.50" y1="231.40" x2="459.50" y2="229.20" stroke="#111" stroke-width="1.5"/>
<line x1="463.00" y1="231.40" x2="463.00" y2="229.20" stroke="#111" stroke-width="1.5"/>
<line x1="466.50" y1="231.40" x2="466.50" y2="229.20" stroke="#111" stroke-width="1.5"/>
<line x1="470.00" y1="231.40" x2="470.00" y2="229.20" stroke="#111" stroke-width="1.5"/>
<line x1="473.50" y1="231.40" x2="473.50" y2="229.20" stroke="#111" stroke-width="1.5"/>
<line x1="477.00" y1="231.40" x2="477.00" y2="229.20" stroke="#111" stroke-width="1.5"/>
<line x1="480.50" y1="231.40" x2="480.50" y2="229.20" stroke="#111" stroke-width="1.5"/>
<line x1="484.00" y1="231.40" x2="484.00" y2="229.20" stroke="#111" stroke-width="1.5"/>
<line x1="487.50" y1="231.40" x2="487.50" y2="229.20" stroke="#111" stroke-width="1.5"/>
<line x1="491.00" y1="231.40" x2="491.00" y2="229.20" stroke="#111" stroke-width="1.5"/>
<line x1="494.50" y1="231.40" x2="494.50" y2="229.20" stroke="#111" stroke-width="1.5"/>
<line x1="498.00" y1="231.40" x2="498.00" y2="229.20" stroke="#111" stroke-width="1.5"/>
<line x1="501.50" y1="231.40" x2="501.50" y2="229.20" stroke="#111" stroke-width="1.5"/>
<line x1="505.00" y1="231.40" x2="505.00" y2="229.20" stroke="#111" stroke-width="1.5"/>
<line x1="508.50" y1="231.40" x2="508.50" y2="229.20" stroke="#111" stroke-width="1.5"/>
<line x1="512.00" y1="231.40" x2="512.00" y2="229.20" stroke="#111" stroke-width="1.5"/>
<line x1="392.50" y1="306.70" x2="408.20" y2="306.70" stroke="#111" stroke-width="1.3"/>
<line x1="400.35" y1="306.70" x2="400.35" y2="304.20" stroke="#111" stroke-width="1.2"/>
<text x="413.90" y="310.50" font-size="11"><tspan font-style="italic">UCHL1</tspan><tspan> LO/</tspan><tspan font-style="italic">MYC</tspan><tspan> LO</tspan></text>
<line x1="392.50" y1="322.20" x2="408.20" y2="322.20" stroke="#9a3a2c" stroke-width="1.3"/>
<line x1="400.35" y1="322.20" x2="400.35" y2="319.70" stroke="#111" stroke-width="1.2"/>
<text x="413.90" y="326.00" font-size="11"><tspan font-style="italic">UCHL1</tspan><tspan> LO/</tspan><tspan font-style="italic">MYC</tspan><tspan> HI</tspan></text>
</svg></body></html>
